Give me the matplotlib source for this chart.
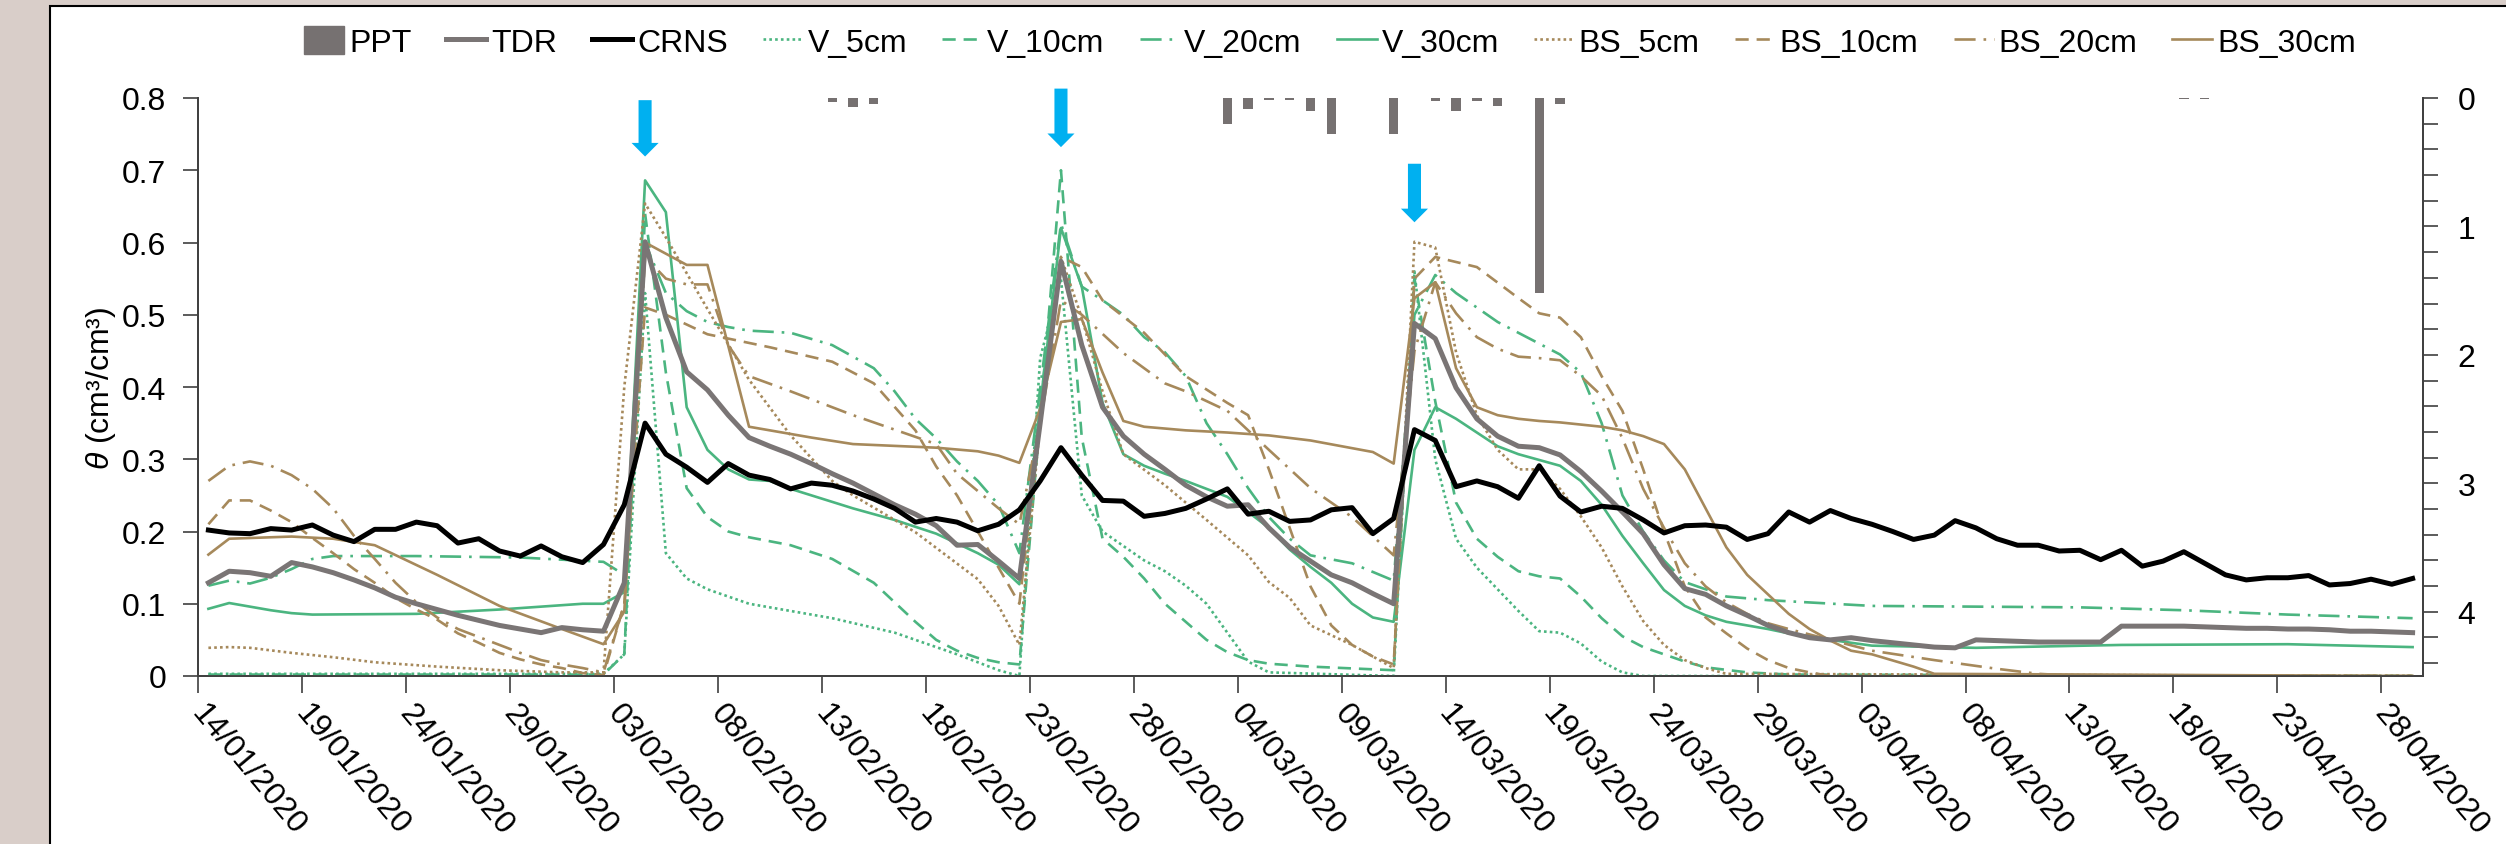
import datetime as dt

import matplotlib
matplotlib.use("Agg")
import matplotlib.pyplot as plt
import numpy as np
from matplotlib.lines import Line2D
from matplotlib.patches import Patch, Rectangle
from matplotlib.ticker import FixedLocator, FuncFormatter, MultipleLocator
from matplotlib.transforms import ScaledTranslation

plt.rcParams["font.family"] = ["Liberation Sans", "DejaVu Sans"]
plt.rcParams["font.size"] = 23
plt.rcParams["mathtext.fontset"] = "custom"
plt.rcParams["mathtext.it"] = "Liberation Sans:italic"
plt.rcParams["mathtext.rm"] = "Liberation Sans"

# %%
# Data. Day 0 = 14/01/2020, daily values.
START = dt.date(2020, 1, 14)
N_DAYS = 107

crns = [0.202, 0.198, 0.197, 0.204, 0.202, 0.209, 0.195, 0.186, 0.203, 0.203,
        0.213, 0.208, 0.184, 0.190, 0.173, 0.166, 0.180, 0.165, 0.157, 0.182,
        0.237, 0.350, 0.307, 0.289, 0.268, 0.294, 0.278, 0.272, 0.259, 0.267,
        0.264, 0.256, 0.245, 0.232, 0.213, 0.218, 0.213, 0.201, 0.210, 0.230,
        0.270, 0.316, 0.278, 0.243, 0.242, 0.221, 0.225, 0.232, 0.245, 0.259,
        0.224, 0.228, 0.214, 0.216, 0.230, 0.233, 0.197, 0.218, 0.341, 0.326,
        0.262, 0.270, 0.262, 0.246, 0.291, 0.249, 0.227, 0.235, 0.232, 0.216,
        0.198, 0.208, 0.209, 0.206, 0.189, 0.197, 0.227, 0.213, 0.229, 0.218,
        0.210, 0.200, 0.189, 0.195, 0.215, 0.205, 0.190, 0.181, 0.181, 0.173,
        0.174, 0.161, 0.174, 0.152, 0.159, 0.172, 0.156, 0.140, 0.133, 0.136,
        0.136, 0.139, 0.126, 0.128, 0.134, 0.127, 0.135]

tdr = [0.129, 0.145, 0.143, 0.138, 0.157, 0.151, 0.143, 0.133, 0.122, 0.109,
       0.100, 0.092, 0.084, 0.077, 0.070, 0.065, 0.060, 0.067, 0.064, 0.062,
       0.129, 0.601, 0.496, 0.421, 0.396, 0.361, 0.330, 0.318, 0.307, 0.294,
       0.280, 0.267, 0.252, 0.237, 0.224, 0.208, 0.181, 0.182, 0.159, 0.135,
       0.350, 0.574, 0.458, 0.372, 0.332, 0.307, 0.286, 0.264, 0.248, 0.235,
       0.237, 0.205, 0.178, 0.159, 0.140, 0.129, 0.114, 0.100, 0.488, 0.467,
       0.399, 0.356, 0.332, 0.318, 0.316, 0.306, 0.283, 0.256, 0.227, 0.197,
       0.154, 0.121, 0.113, 0.097, 0.084, 0.070, 0.060, 0.053, 0.050, 0.053,
       0.049, 0.046, 0.043, 0.040, 0.039, 0.050, 0.049, 0.048, 0.047, 0.047,
       0.047, 0.047, 0.069, 0.069, 0.069, 0.069, 0.068, 0.067, 0.066, 0.066,
       0.065, 0.065, 0.064, 0.062, 0.062, 0.061, 0.060]

# probe series: (day, value) at the vertices that can be read
v5_day = [0, 19, 20, 21, 22, 23, 24, 25, 26, 28, 30, 33, 36, 38, 39, 40, 41,
          42, 43, 44, 45, 46, 47, 48, 49, 50, 51, 57, 58, 59, 60, 61, 62, 63,
          64, 65, 66, 67, 68, 69, 106]
v5 = [0.003, 0.003, 0.03, 0.53, 0.17, 0.135, 0.12, 0.11, 0.10, 0.09, 0.08,
      0.06, 0.03, 0.008, 0.0, 0.44, 0.55, 0.25, 0.2, 0.18, 0.16, 0.145, 0.125,
      0.1, 0.06, 0.02, 0.005, 0.0, 0.56, 0.3, 0.19, 0.15, 0.12, 0.09, 0.062,
      0.06, 0.045, 0.02, 0.005, 0.0, 0.0]

v10_day = [0, 19, 20, 21, 22, 23, 24, 25, 26, 28, 30, 32, 34, 35, 36, 37, 38,
           39, 41, 42, 43, 44, 45, 46, 47, 48, 49, 50, 51, 53, 57, 58, 59, 60,
           61, 62, 63, 64, 65, 66, 67, 68, 69, 70, 71, 72, 74, 76, 106]
v10 = [0.002, 0.002, 0.03, 0.64, 0.42, 0.26, 0.22, 0.2, 0.192, 0.181, 0.162,
       0.129, 0.075, 0.05, 0.035, 0.025, 0.019, 0.016, 0.70, 0.33, 0.19, 0.165,
       0.135, 0.1, 0.075, 0.05, 0.033, 0.022, 0.017, 0.013, 0.008, 0.55, 0.38,
       0.24, 0.19, 0.165, 0.145, 0.138, 0.135, 0.11, 0.08, 0.055, 0.04, 0.03,
       0.02, 0.012, 0.005, 0.002, 0.0]

v20_day = [0, 1, 2, 3, 4, 5, 6, 10, 15, 19, 20, 21, 22, 23, 24, 25, 26, 28,
           30, 32, 33, 34, 35, 36, 37, 38, 39, 41, 42, 43, 44, 45, 46, 47, 48,
           49, 50, 51, 52, 53, 55, 57, 58, 59, 60, 61, 62, 63, 64, 65, 66, 67,
           68, 69, 70, 71, 72, 73, 75, 80, 90, 95, 100, 106]
v20 = [0.125, 0.132, 0.128, 0.136, 0.148, 0.162, 0.166, 0.166, 0.164, 0.158,
       0.14, 0.60, 0.53, 0.505, 0.49, 0.483, 0.478, 0.475, 0.458, 0.426, 0.394,
       0.356, 0.329, 0.297, 0.27, 0.237, 0.17, 0.626, 0.539, 0.52, 0.5, 0.469,
       0.448, 0.415, 0.35, 0.307, 0.26, 0.22, 0.19, 0.167, 0.156, 0.132, 0.5,
       0.555, 0.53, 0.51, 0.49, 0.475, 0.46, 0.445, 0.42, 0.35, 0.25, 0.2,
       0.16, 0.13, 0.12, 0.11, 0.105, 0.097, 0.095, 0.091, 0.085, 0.08]

v30_day = [0, 1, 2, 3, 4, 5, 10, 14, 16, 18, 19, 20, 21, 22, 23, 24, 25, 26,
           27, 28, 31, 33, 35, 37, 38, 39, 41, 42, 43, 44, 45, 46, 47, 48, 49,
           50, 51, 52, 53, 54, 55, 56, 57, 58, 59, 60, 61, 62, 63, 64, 65, 66,
           67, 68, 69, 70, 71, 72, 73, 74, 75, 76, 77, 78, 80, 85, 92, 100, 106]
v30 = [0.093, 0.101, 0.096, 0.091, 0.087, 0.085, 0.086, 0.092, 0.096, 0.1,
       0.1, 0.116, 0.686, 0.642, 0.372, 0.313, 0.286, 0.272, 0.27, 0.259,
       0.232, 0.216, 0.197, 0.17, 0.154, 0.127, 0.62, 0.539, 0.378, 0.307,
       0.291, 0.28, 0.27, 0.259, 0.248, 0.227, 0.205, 0.175, 0.151, 0.129,
       0.1, 0.081, 0.075, 0.313, 0.372, 0.356, 0.337, 0.318, 0.307, 0.299,
       0.291, 0.27, 0.237, 0.194, 0.156, 0.119, 0.097, 0.084, 0.075, 0.07,
       0.065, 0.059, 0.055, 0.05, 0.042, 0.039, 0.043, 0.044, 0.04]

bs5_day = [0, 1, 2, 4, 6, 8, 11, 14, 17, 19, 20, 21, 22, 24, 26, 28, 30, 31,
           34, 37, 38, 39, 40, 41, 42, 43, 44, 46, 48, 50, 51, 52, 53, 55, 57,
           58, 59, 60, 61, 62, 63, 64, 65, 66, 67, 68, 69, 70, 71, 72, 73, 106]
bs5 = [0.039, 0.04, 0.039, 0.032, 0.026, 0.019, 0.013, 0.008, 0.005, 0.005,
       0.4, 0.654, 0.607, 0.508, 0.41, 0.333, 0.27, 0.25, 0.199, 0.134, 0.097,
       0.043, 0.35, 0.58, 0.496, 0.394, 0.307, 0.264, 0.216, 0.167, 0.13,
       0.108, 0.07, 0.043, 0.011, 0.601, 0.593, 0.448, 0.361, 0.313, 0.286,
       0.286, 0.259, 0.221, 0.178, 0.124, 0.076, 0.043, 0.022, 0.011, 0.003,
       0.0]

bs10_day = [0, 1, 2, 3, 4, 5, 6, 7, 8, 9, 10, 11, 12, 13, 14, 15, 16, 17, 18,
            19, 20, 21, 22, 24, 27, 30, 32, 34, 35, 36, 37, 38, 39, 40, 41, 42,
            43, 45, 47, 49, 50, 51, 52, 53, 54, 55, 56, 57, 58, 59, 61, 63, 64,
            65, 66, 67, 68, 69, 70, 71, 72, 73, 74, 75, 76, 77, 78, 106]
bs10 = [0.21, 0.243, 0.243, 0.229, 0.213, 0.191, 0.17, 0.148, 0.129, 0.108,
        0.092, 0.078, 0.059, 0.046, 0.032, 0.023, 0.016, 0.011, 0.004, 0.001,
        0.1, 0.51, 0.5, 0.473, 0.455, 0.435, 0.405, 0.34, 0.29, 0.25, 0.2,
        0.15, 0.1, 0.35, 0.58, 0.566, 0.52, 0.475, 0.415, 0.378, 0.361, 0.286,
        0.205, 0.124, 0.07, 0.043, 0.027, 0.016, 0.55, 0.58, 0.566, 0.523,
        0.502, 0.496, 0.469, 0.415, 0.367, 0.286, 0.2, 0.124, 0.081, 0.059,
        0.038, 0.022, 0.011, 0.005, 0.0, 0.0]

bs20_day = [0, 1, 2, 3, 4, 5, 6, 7, 8, 9, 10, 11, 12, 14, 15, 16, 17, 18, 19,
            20, 21, 22, 23, 24, 25, 26, 28, 31, 35, 36, 38, 39, 40, 41, 42, 44,
            46, 47, 49, 51, 53, 55, 57, 58, 59, 60, 61, 62, 63, 64, 65, 66, 67,
            68, 69, 70, 71, 72, 73, 74, 75, 76, 78, 80, 83, 86, 88, 90, 106]
bs20 = [0.27, 0.291, 0.297, 0.291, 0.278, 0.259, 0.232, 0.194, 0.162, 0.129,
        0.102, 0.081, 0.065, 0.043, 0.032, 0.022, 0.016, 0.011, 0.005, 0.1,
        0.58, 0.55, 0.542, 0.542, 0.458, 0.415, 0.394, 0.361, 0.321, 0.28,
        0.232, 0.21, 0.35, 0.52, 0.5, 0.447, 0.405, 0.394, 0.367, 0.313, 0.26,
        0.22, 0.167, 0.45, 0.545, 0.502, 0.469, 0.453, 0.442, 0.44, 0.437,
        0.415, 0.388, 0.329, 0.259, 0.205, 0.156, 0.124, 0.102, 0.086, 0.073,
        0.065, 0.05, 0.035, 0.022, 0.01, 0.003, 0.0, 0.0]

bs30_day = [0, 1, 2, 4, 6, 8, 11, 14, 17, 19, 20, 21, 23, 24, 26, 29, 31, 35,
            37, 38, 39, 40, 41, 42, 43, 44, 45, 47, 49, 51, 53, 56, 57, 58, 59,
            60, 61, 62, 63, 64, 65, 66, 67, 68, 69, 70, 71, 72, 73, 74, 75, 76,
            77, 78, 79, 80, 82, 83, 106]
bs30 = [0.168, 0.19, 0.191, 0.193, 0.19, 0.181, 0.14, 0.097, 0.065, 0.044,
        0.089, 0.6, 0.569, 0.569, 0.345, 0.33, 0.321, 0.316, 0.311, 0.305,
        0.295, 0.37, 0.49, 0.494, 0.42, 0.353, 0.345, 0.34, 0.337, 0.333,
        0.326, 0.31, 0.294, 0.523, 0.545, 0.426, 0.372, 0.361, 0.356, 0.353,
        0.351, 0.348, 0.345, 0.34, 0.332, 0.321, 0.286, 0.232, 0.178, 0.14,
        0.113, 0.086, 0.065, 0.049, 0.035, 0.03, 0.013, 0.003, 0.0]

# precipitation (right axis, inverted)
ppt_day = [30, 31, 32, 49, 50, 51, 52, 53, 54, 57, 59, 60, 61, 62, 64, 65, 95, 96]
ppt = [0.03, 0.07, 0.045, 0.2, 0.085, 0.015, 0.015, 0.1, 0.28, 0.28, 0.02,
       0.1, 0.02, 0.065, 1.52, 0.045, 0.01, 0.01]

# rain events marked with arrows: (day, tail value, tip value)
arrow_day = [21.5, 41.5, 58.5]
arrow_top = [0.797, 0.813, 0.709]
arrow_tip = [0.719, 0.732, 0.628]

GREEN = "#4BB580"
BROWN = "#A6895B"
GRAY = "#767171"
BLUE = "#00B0F0"
DOT = (0, (1, 1.2))
DASH = (0, (5, 3))
DASHDOT = (0, (8, 3, 1, 3))

series = [
    ("V_5cm", v5_day, v5, GREEN, DOT),
    ("V_10cm", v10_day, v10, GREEN, DASH),
    ("V_20cm", v20_day, v20, GREEN, DASHDOT),
    ("V_30cm", v30_day, v30, GREEN, "-"),
    ("BS_5cm", bs5_day, bs5, BROWN, DOT),
    ("BS_10cm", bs10_day, bs10, BROWN, DASH),
    ("BS_20cm", bs20_day, bs20, BROWN, DASHDOT),
    ("BS_30cm", bs30_day, bs30, BROWN, "-"),
]

# %%
W, H = 2506, 845
fig = plt.figure(figsize=(W / 100, H / 100), dpi=100, facecolor="#d9cec9")
fig.patches.append(Rectangle((50 / W, -0.1), 1.2, 1.1 - 7 / H,
                             transform=fig.transFigure, facecolor="white",
                             edgecolor="black", lw=1.5, zorder=-5))

ax = fig.add_axes([198 / W, 1 - 677 / H, (2423 - 198) / W, (677 - 99) / H])
ax2 = ax.twinx()
ax.set_zorder(ax2.get_zorder() + 1)
ax.patch.set_visible(False)
ax2.patch.set_visible(False)

ax2.bar(np.array(ppt_day) + 0.5, ppt, width=0.45, color=GRAY)
ax2.set_ylim(4.5, 0)

for name, d, v, c, ls in series:
    ax.plot(np.array(d) + 0.5, v, color=c, ls=ls, lw=1.9)
days = np.arange(N_DAYS) + 0.5
ax.plot(days, tdr, color="#7A7575", lw=3.6, solid_joinstyle="round")
ax.plot(days, crns, color="black", lw=3.6, solid_joinstyle="round")

for x, y0, y1 in zip(arrow_day, arrow_top, arrow_tip):
    ax.annotate("", xy=(x, y1), xytext=(x, y0), annotation_clip=False,
                arrowprops=dict(width=9.4, headwidth=19.5, headlength=9.8,
                                shrink=0, facecolor=BLUE, edgecolor="none"))

ax.set_xlim(0, N_DAYS)
ax.set_ylim(0, 0.8)

SPINE = "#404040"
for a in (ax, ax2):
    a.spines["top"].set_visible(False)
    for s in ("left", "right", "bottom"):
        a.spines[s].set_color(SPINE)
        a.spines[s].set_linewidth(1.3)
ax.tick_params(axis="x", direction="out", length=12, width=1.2, color=SPINE, pad=4)
ax.tick_params(axis="y", direction="out", length=11, width=1.2, color=SPINE, pad=12)
ax2.tick_params(axis="y", which="both", direction="out", length=11, width=1.2,
                color=SPINE, pad=14)

tick_days = list(range(0, N_DAYS, 5))
ax.set_xticks(tick_days)
ax.set_xticklabels([(START + dt.timedelta(days=d)).strftime("%d/%m/%Y")
                    for d in tick_days])
shift = ScaledTranslation(10 / 100, 0, fig.dpi_scale_trans)
for lab in ax.get_xticklabels():
    lab.set_rotation(-50)
    lab.set_ha("left")
    lab.set_va("top")
    lab.set_rotation_mode("anchor")
    lab.set_transform(lab.get_transform() + shift)

ax.yaxis.set_major_locator(MultipleLocator(0.1))
ax.yaxis.set_major_formatter(FuncFormatter(lambda v, _: f"{round(v, 1):g}"))
ax.set_ylabel(r"$\theta$ (cm³/cm³)")
ax.yaxis.set_label_coords(-0.036, 0.5)

ax2.set_yticks([0, 1, 2, 3, 4])
ax2.yaxis.set_minor_locator(FixedLocator(np.arange(0, 4.45, 0.2)))

handles = [Patch(color=GRAY),
           Line2D([], [], color="#7A7575", lw=3.6),
           Line2D([], [], color="black", lw=3.6)]
labels = ["PPT", "TDR", "CRNS"]
for name, d, v, c, ls in series:
    handles.append(Line2D([], [], color=c, ls=ls, lw=1.9))
    labels.append(name)
fig.legend(handles, labels, loc="center", bbox_to_anchor=(1330 / W, 1 - 43 / H),
           ncol=len(labels), frameon=False, handlelength=1.25, handletextpad=0.15,
           columnspacing=1.1, handleheight=1.0, borderaxespad=0)

fig.savefig("out.png", dpi=100, facecolor=fig.get_facecolor())
